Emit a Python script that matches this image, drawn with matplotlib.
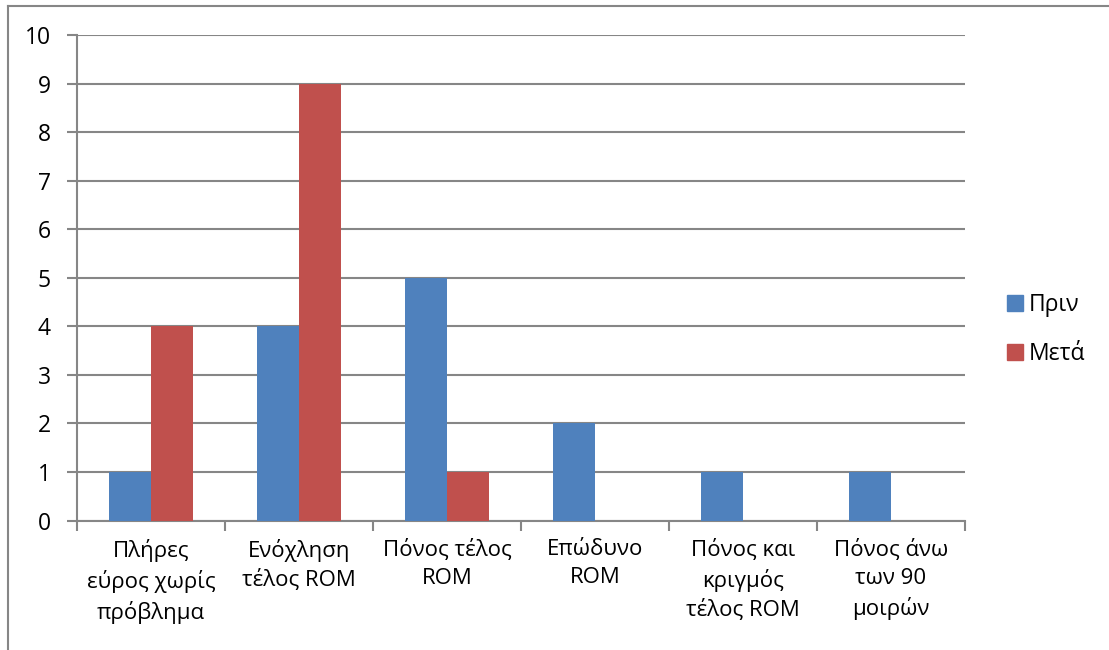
import matplotlib.pyplot as plt
import numpy as np
from matplotlib.lines import Line2D

plt.rcParams['font.family'] = ['Open Sans', 'DejaVu Sans']

categories = ["Πλήρες\nεύρος χωρίς\nπρόβλημα", "Ενόχληση\nτέλος ROM",
              "Πόνος τέλος\nROM", "Επώδυνο\nROM", "Πόνος και\nκριγμός\nτέλος ROM",
              "Πόνος άνω\nτων 90\nμοιρών"]
before = [1, 4, 5, 2, 1, 1]
after = [4, 9, 1, 0, 0, 0]
series_names = ["Πριν", "Μετά"]

blue = "#4F81BD"
red = "#C0504D"
grid = "#868686"

fig = plt.figure(figsize=(11.09, 6.5), dpi=100)
ax = fig.add_axes([77 / 1109, 1 - 520.5 / 650, 888 / 1109, 485.5 / 650])

x = np.arange(len(categories))
w = 0.284
ax.bar(x - w / 2, before, w, color=blue, label=series_names[0], zorder=3)
ax.bar(x + w / 2, after, w, color=red, label=series_names[1], zorder=3)

ax.set_xlim(-0.5, len(categories) - 0.5)
ax.set_ylim(0, 10)
ax.set_yticks(range(0, 11))
ax.yaxis.grid(True, color=grid, linewidth=1.5, zorder=0)
ax.set_axisbelow(True)

for s in ["top", "right"]:
    ax.spines[s].set_visible(False)
for s in ["left", "bottom"]:
    ax.spines[s].set_color(grid)
    ax.spines[s].set_linewidth(1.5)

ax.tick_params(axis="y", length=7, width=1.5, color=grid, labelsize=16.5, pad=12)
ax.set_xticks(np.arange(-0.5, len(categories), 1.0))
ax.set_xticklabels([])
ax.tick_params(axis="x", length=7, width=1.5, color=grid)
ax.set_xticks(x, minor=True)
ax.set_xticklabels(categories, minor=True, fontsize=16, linespacing=1.45)
ax.tick_params(axis="x", which="minor", length=0, pad=13)

leg = fig.legend(handles=[plt.Rectangle((0, 0), 1, 1, color=blue),
                          plt.Rectangle((0, 0), 1, 1, color=red)],
                 labels=series_names, loc="center left",
                 bbox_to_anchor=(1007 / 1109, 1 - 329.5 / 650), frameon=False,
                 fontsize=16.5, handlelength=0.7, handleheight=0.7,
                 handletextpad=0.25, labelspacing=1.1, borderpad=0,
                 borderaxespad=0)

# outer chart frame, only left and top edges show
fig.add_artist(Line2D([8 / 1109, 8 / 1109], [0, 1 - 6 / 650], color=grid, lw=1.5))
fig.add_artist(Line2D([8 / 1109, 1], [1 - 6 / 650, 1 - 6 / 650], color=grid, lw=1.5))

fig.savefig("out.png", dpi=100)
